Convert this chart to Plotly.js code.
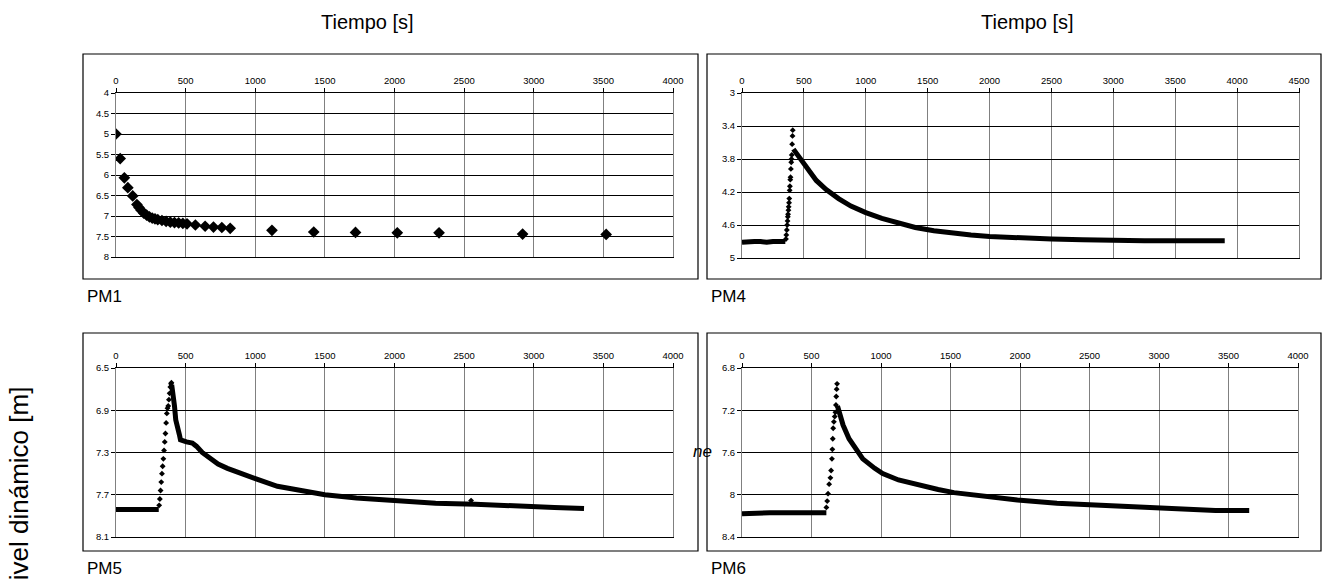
<!DOCTYPE html>
<html>
<head>
<meta charset="utf-8">
<script src="https://cdn.plot.ly/plotly-3.0.1.min.js"></script>
<style>html,body{margin:0;padding:0;background:#fff;}#chart{width:1322px;height:580px;}</style>
</head>
<body>
<div id="chart"></div>
<script>
// ---------- DATA (time [s], dynamic level [m]) ----------
const pm1_t = [0, 30, 60, 85, 120, 150, 165, 180, 200, 220, 240, 260, 280, 300, 330, 360, 390, 420, 450, 480, 510, 570, 640, 700, 760, 820, 1120, 1420, 1720, 2020, 2320, 2920, 3520];
const pm1_h = [5.0, 5.6, 6.07, 6.31, 6.51, 6.72, 6.79, 6.86, 6.93, 6.98, 7.02, 7.05, 7.07, 7.09, 7.11, 7.13, 7.15, 7.16, 7.17, 7.18, 7.19, 7.22, 7.25, 7.27, 7.28, 7.3, 7.35, 7.39, 7.4, 7.41, 7.41, 7.44, 7.45];

const pm4_base_t = [0, 50, 100, 150, 200, 250, 300, 350];
const pm4_base_h = [4.81, 4.8, 4.8, 4.8, 4.81, 4.8, 4.8, 4.8];
const pm4_rise_t = [355, 358, 362, 365, 368, 370, 372, 375, 377, 380, 382, 385, 387, 390, 392, 395, 398, 400, 402, 405, 408, 410];
const pm4_rise_h = [4.77, 4.72, 4.66, 4.6, 4.55, 4.5, 4.47, 4.42, 4.38, 4.33, 4.28, 4.18, 4.13, 4.05, 4.02, 3.92, 3.84, 3.8, 3.75, 3.62, 3.52, 3.45];
const pm4_decay_t = [415, 430, 460, 500, 550, 600, 680, 780, 880, 1000, 1130, 1260, 1400, 1550, 1700, 1850, 2000, 2250, 2500, 2750, 3000, 3250, 3500, 3700, 3900];
const pm4_decay_h = [3.68, 3.71, 3.78, 3.87, 3.97, 4.06, 4.17, 4.28, 4.37, 4.45, 4.52, 4.58, 4.63, 4.67, 4.7, 4.72, 4.74, 4.76, 4.77, 4.78, 4.79, 4.79, 4.79, 4.79, 4.79];

const pm5_base_t = [0, 50, 100, 150, 200, 250, 300, 307];
const pm5_base_h = [7.84, 7.84, 7.84, 7.84, 7.84, 7.84, 7.84, 7.84];
const pm5_dot_t = [310, 315, 320, 325, 330, 335, 340, 345, 350, 355, 360, 365, 370, 375, 380, 385, 390, 395, 398, 2550];
const pm5_dot_h = [7.8, 7.74, 7.66, 7.58, 7.5, 7.43, 7.36, 7.28, 7.2, 7.12, 7.02, 6.93, 6.88, 6.86, 6.8, 6.74, 6.68, 6.65, 6.64, 7.755];
const pm5_decay_t = [400, 406, 420, 429, 443, 455, 463, 477, 506, 548, 577, 619, 680, 733, 800, 875, 1006, 1159, 1330, 1500, 1727, 2011, 2295, 2580, 2864, 3148, 3361];
const pm5_decay_h = [6.66, 6.76, 6.86, 6.99, 7.05, 7.13, 7.18, 7.19, 7.2, 7.21, 7.24, 7.3, 7.36, 7.41, 7.45, 7.49, 7.55, 7.62, 7.66, 7.7, 7.73, 7.76, 7.78, 7.79, 7.8, 7.82, 7.83];

const pm6_base_t = [0, 100, 200, 300, 400, 500, 600, 607];
const pm6_base_h = [8.18, 8.17, 8.17, 8.17, 8.17, 8.17, 8.17, 8.17];
const pm6_rise_t = [607, 613, 619, 627, 636, 641, 647, 650, 653, 656, 661, 667, 672, 676, 678, 681, 684];
const pm6_rise_h = [8.12, 8.06, 7.99, 7.9, 7.84, 7.77, 7.66, 7.57, 7.47, 7.37, 7.31, 7.26, 7.22, 7.15, 7.07, 7.0, 6.95];
const pm6_decay_t = [687, 698, 727, 770, 812, 869, 955, 1012, 1126, 1268, 1411, 1525, 1696, 1981, 2266, 2551, 2836, 3121, 3406, 3649];
const pm6_decay_h = [7.16, 7.22, 7.34, 7.47, 7.56, 7.66, 7.75, 7.8, 7.86, 7.91, 7.95, 7.98, 8.01, 8.05, 8.08, 8.1, 8.12, 8.14, 8.15, 8.15];

const panel_names = ['PM1', 'PM4', 'PM5', 'PM6'];
const x_title = 'Tiempo [s]';
const y_title = 'Nivel dinámico [m]';

// ---------- LAYOUT HELPERS ----------
const W = 1322, H = 580;
const px = v => v / W;
const py = v => 1 - v / H;
const FONT = 'Liberation Sans, Arial, sans-serif';

function xAxis(l, r, max, anchor) {
  return {
    domain: [px(l), px(r)], range: [0, max], tick0: 0, dtick: 500,
    side: 'top', anchor: anchor, ticks: 'outside', ticklen: 4, tickcolor: '#000',
    showgrid: true, gridcolor: '#808080', gridwidth: 1,
    showline: true, linecolor: '#000', linewidth: 1, mirror: true,
    zeroline: false, tickfont: {family: FONT, size: 9.5, color: '#000'}, fixedrange: true
  };
}
function yAxis(t, b, lo, hi, d, anchor) {
  return {
    domain: [py(b), py(t)], range: [hi, lo], tick0: lo, dtick: d,
    anchor: anchor, ticks: 'outside', ticklen: 4, tickcolor: '#000',
    showgrid: true, gridcolor: '#000', gridwidth: 1,
    showline: true, linecolor: '#808080', linewidth: 1, mirror: true,
    zeroline: false, tickfont: {family: FONT, size: 9.5, color: '#000'}, fixedrange: true
  };
}

const BLK = '#000';
function lineTrace(t, h, xa, ya, w) {
  return {x: t, y: h, xaxis: xa, yaxis: ya, type: 'scatter', mode: 'lines',
          line: {color: BLK, width: w}, hoverinfo: 'skip'};
}
function dotTrace(t, h, xa, ya, s, sym) {
  return {x: t, y: h, xaxis: xa, yaxis: ya, type: 'scatter', mode: 'markers',
          marker: {color: BLK, size: s, symbol: sym || 'diamond'}, hoverinfo: 'skip'};
}

const data = [
  dotTrace(pm1_t, pm1_h, 'x', 'y', 9, 'diamond'),
  lineTrace(pm4_base_t, pm4_base_h, 'x2', 'y2', 5),
  dotTrace(pm4_rise_t, pm4_rise_h, 'x2', 'y2', 4.5),
  lineTrace(pm4_decay_t, pm4_decay_h, 'x2', 'y2', 5),
  lineTrace(pm5_base_t, pm5_base_h, 'x3', 'y3', 5),
  dotTrace(pm5_dot_t, pm5_dot_h, 'x3', 'y3', 4.5),
  lineTrace(pm5_decay_t, pm5_decay_h, 'x3', 'y3', 5),
  lineTrace(pm6_base_t, pm6_base_h, 'x4', 'y4', 5),
  dotTrace(pm6_rise_t, pm6_rise_h, 'x4', 'y4', 4.5),
  lineTrace(pm6_decay_t, pm6_decay_h, 'x4', 'y4', 5)
];

// panel frames [left, top, right, bottom] in px
const frames = [[83, 54, 698, 279], [707, 54, 1321, 279], [83, 333, 698, 551], [707, 333, 1321, 551]];
const shapes = frames.map(f => ({
  type: 'rect', xref: 'paper', yref: 'paper', layer: 'below',
  x0: px(f[0]), x1: px(f[2]), y0: py(f[3]), y1: py(f[1]),
  line: {color: '#000', width: 1.2}, fillcolor: '#fff'
}));

const labelPos = [[85, 296], [709, 296], [85, 568], [709, 568]];
const annotations = panel_names.map((n, i) => ({
  text: n, xref: 'paper', yref: 'paper', x: px(labelPos[i][0]), y: py(labelPos[i][1]),
  xanchor: 'left', yanchor: 'middle', showarrow: false,
  font: {family: FONT, size: 17, color: '#000'}
}));
annotations.push(
  {text: x_title, xref: 'paper', yref: 'paper', x: px(367), y: py(22), xanchor: 'center', yanchor: 'middle',
   showarrow: false, font: {family: FONT, size: 20, color: '#000'}},
  {text: x_title, xref: 'paper', yref: 'paper', x: px(1027), y: py(22), xanchor: 'center', yanchor: 'middle',
   showarrow: false, font: {family: FONT, size: 20, color: '#000'}},
  {text: y_title, xref: 'paper', yref: 'paper', x: px(19), y: py(493), xanchor: 'center', yanchor: 'middle',
   textangle: -90, showarrow: false, font: {family: FONT, size: 26, color: '#000'}},
  {text: '<i>ne</i>', xref: 'paper', yref: 'paper', x: px(702), y: py(451), xanchor: 'center', yanchor: 'middle',
   showarrow: false, font: {family: FONT, size: 17, color: '#000'}}
);

const layout = {
  width: W, height: H, margin: {l: 0, r: 0, t: 0, b: 0},
  paper_bgcolor: '#fff', plot_bgcolor: 'rgba(0,0,0,0)', showlegend: false,
  font: {family: FONT, color: '#000'},
  xaxis: xAxis(116, 673, 4000, 'y'),
  yaxis: yAxis(93, 257, 4, 8, 0.5, 'x'),
  xaxis2: xAxis(742, 1299, 4500, 'y2'),
  yaxis2: yAxis(93, 258, 3, 5, 0.4, 'x2'),
  xaxis3: xAxis(116, 673, 4000, 'y3'),
  yaxis3: yAxis(368, 537, 6.5, 8.1, 0.4, 'x3'),
  xaxis4: xAxis(742, 1298, 4000, 'y4'),
  yaxis4: yAxis(368, 537, 6.8, 8.4, 0.4, 'x4'),
  shapes: shapes, annotations: annotations
};

Plotly.newPlot('chart', data, layout, {staticPlot: true, displayModeBar: false});
</script>
</body>
</html>
